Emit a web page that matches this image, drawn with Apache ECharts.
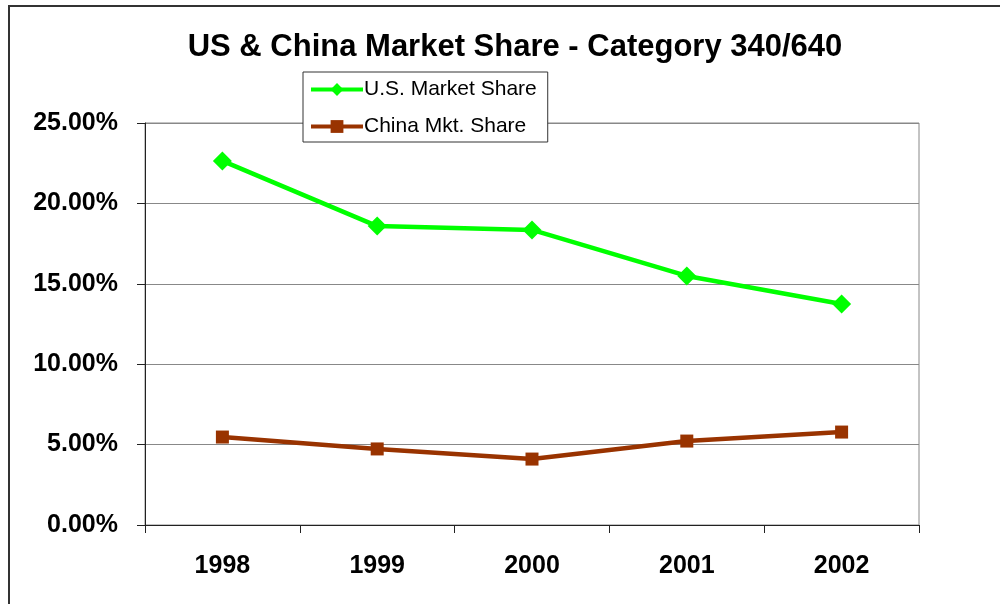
<!DOCTYPE html>
<html>
<head>
<meta charset="utf-8">
<script src="https://cdn.jsdelivr.net/npm/echarts@6/dist/echarts.min.js"></script>
<style>
  html, body { margin: 0; padding: 0; background: #fff; }
  #chart { width: 1000px; height: 604px; }
</style>
</head>
<body>
<div id="chart"></div>
<script>
// values, in percent
const years = ['1998', '1999', '2000', '2001', '2002'];
const usShare = [22.64, 18.59, 18.35, 15.49, 13.74];
const chinaShare = [5.47, 4.73, 4.10, 5.22, 5.78];

const chart = echarts.init(document.getElementById('chart'));

chart.setOption({
    animation: false,
    backgroundColor: '#fff',
    textStyle: { fontFamily: 'Liberation Sans, Arial, sans-serif' },
    title: {
        text: 'US & China Market Share - Category 340/640',
        left: 510,
        textAlign: 'center',
        top: 27,
        textStyle: { fontSize: 31, fontWeight: 'bold', color: '#000' },
    },
    graphic: [
        {
            type: 'rect',
            shape: { x: 9, y: 6, width: 1100, height: 800 },
            style: { fill: 'none', stroke: '#333', lineWidth: 2 },
            z: 100,
        },
    ],
    legend: {
        orient: 'vertical',
        left: 303,
        top: 72,
        padding: [7, 11, 5, 6],
        itemGap: 16,
        itemWidth: 52,
        itemHeight: 16,
        backgroundColor: '#fff',
        borderColor: '#333',
        borderWidth: 1,
        textStyle: { fontSize: 21, color: '#000', padding: [0, 0, 0, -4] },
        z: 10,
        data: [
            { name: 'U.S. Market Share', lineStyle: { width: 4 } },
            { name: 'China Mkt. Share', lineStyle: { width: 4 } },
        ],
    },
    grid: {
        left: 145,
        top: 123,
        right: 81,
        bottom: 79,
        show: true,
        borderColor: '#888',
        borderWidth: 1,
    },
    xAxis: {
        type: 'category',
        data: years,
        boundaryGap: true,
        axisLine: { lineStyle: { color: '#222', width: 1 } },
        axisTick: { show: true, length: 8, lineStyle: { color: '#222' } },
        axisLabel: { fontSize: 25, fontWeight: 'bold', color: '#000', margin: 29 },
    },
    yAxis: {
        type: 'value',
        min: 0,
        max: 25,
        interval: 5,
        axisLine: { show: true, lineStyle: { color: '#222', width: 1 } },
        axisTick: { show: true, length: 8, lineStyle: { color: '#222' } },
        splitLine: { lineStyle: { color: '#888', width: 1 } },
        axisLabel: {
            fontSize: 25,
            fontWeight: 'bold',
            color: '#000',
            margin: 27,
            formatter: v => v.toFixed(2) + '%',
        },
    },
    series: [
        {
            name: 'U.S. Market Share',
            type: 'line',
            data: usShare,
            symbol: 'diamond',
            symbolSize: 19,
            itemStyle: { color: '#00ff00' },
            lineStyle: { color: '#00ff00', width: 4.5 },
        },
        {
            name: 'China Mkt. Share',
            type: 'line',
            data: chinaShare,
            symbol: 'rect',
            symbolSize: 13,
            itemStyle: { color: '#993300' },
            lineStyle: { color: '#993300', width: 4.5 },
        },
    ],
});

window.addEventListener('resize', chart.resize);
</script>
</body>
</html>
